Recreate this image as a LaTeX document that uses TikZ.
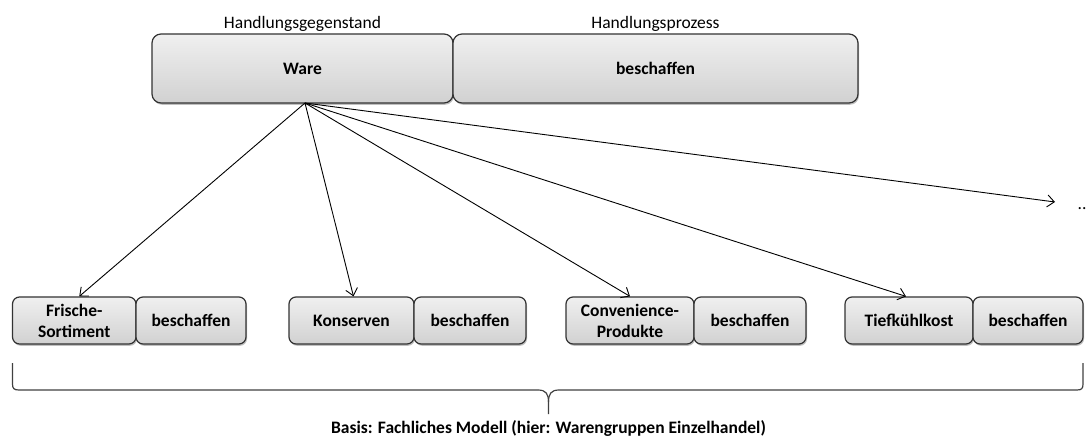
\documentclass[tikz,border=0pt]{standalone}
\usepackage{fontspec}
\setmainfont{Carlito}
\usetikzlibrary{arrows.meta,shadows}
\begin{document}
\begin{tikzpicture}[x=1pt,y=-1pt,
  box/.style={draw=black!80, line width=1.2pt, rounded corners=7pt,
    top color=black!6, bottom color=black!18,
    drop shadow={shadow xshift=1pt, shadow yshift=-1.8pt, opacity=0.5},
    inner sep=0pt, align=center, font=\bfseries\fontsize{17.5}{21}\selectfont},
  small/.style={box, minimum height=47pt},
  big/.style={box, minimum height=69pt, rounded corners=9pt},
  lab/.style={font=\fontsize{17.5}{21}\selectfont, inner sep=0pt},
  arr/.style={-{Straight Barb[length=7pt,width=12pt]}, line width=0.9pt, black},
  brace/.style={draw=black!75, line width=1.2pt},
]
\useasboundingbox (0,0) rectangle (1089,443);

% top boxes
\node[big, minimum width=301pt] (ware) at (302.5,68.5) {Ware};
\node[big, minimum width=405pt] (proc) at (655.5,68.5) {beschaffen};
\node[lab, anchor=base] (lgeg) at (302.5,29) {Handlungsgegenstand};
\node[lab, anchor=base] (lpro) at (655.5,29) {Handlungsprozess};

% bottom boxes
\node[small, minimum width=123.5pt] (fr) at (74.25,320.5) {Frische-\\Sortiment};
\node[small, minimum width=110pt] (frb) at (191,320.5) {beschaffen};
\node[small, minimum width=125pt] (ko) at (351.5,320.5) {Konserven};
\node[small, minimum width=112pt] (kob) at (470,320.5) {beschaffen};
\node[small, minimum width=128pt] (cv) at (630,320.5) {Convenience-\\Produkte};
\node[small, minimum width=112pt] (cvb) at (750,320.5) {beschaffen};
\node[small, minimum width=128pt] (tk) at (909,320.5) {Tiefkühlkost};
\node[small, minimum width=110pt] (tkb) at (1028,320.5) {beschaffen};

% arrows
\coordinate (src) at (305,103);
\coordinate (more) at (1055,202);
\node[lab, anchor=base] (dots) at (1082,210) {..};
\draw[arr] (src) -- ([xshift=5pt]fr.north);
\draw[arr] (src) -- ([xshift=2pt]ko.north);
\draw[arr] (src) -- (cv.north);
\draw[arr] (src) -- ([xshift=-3pt]tk.north);
\draw[arr] (src) -- (more);

% brace
\coordinate (bl) at (12.5,363);
\coordinate (br) at (1083,363);
\coordinate (bm) at (548.5,414);
\draw[brace] (bl) -- (12.5,384) .. controls (12.5,388.5) and (14,390) .. (19,390)
  -- (538,390) .. controls (546,390) and (548.5,394) .. (548.5,402) -- (bm);
\draw[brace] (br) -- (1083,384) .. controls (1083,388.5) and (1081.5,390) .. (1077,390)
  -- (559,390) .. controls (551,390) and (548.5,394) .. (548.5,402);
\node[lab, anchor=base] (basis) at (548.5,433) {\bfseries Basis: Fachliches Modell (hier: Warengruppen Einzelhandel)};
\end{tikzpicture}
\end{document}
